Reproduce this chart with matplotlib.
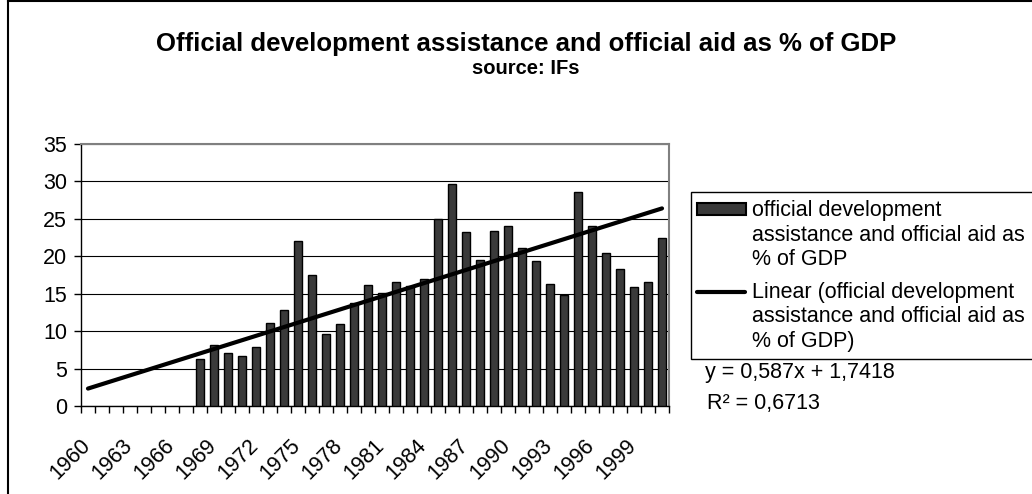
import matplotlib
matplotlib.use("Agg")
import matplotlib.pyplot as plt
import matplotlib.transforms as mtransforms
from matplotlib.patches import Rectangle
from matplotlib.lines import Line2D
import numpy as np

# Official development assistance and official aid, % of GDP (source: IFs)
years = list(range(1960, 2002))
oda_pct = [0, 0, 0, 0, 0, 0, 0, 0,
           6.3, 8.2, 7.1, 6.7, 7.9, 11.1, 12.8, 22.1, 17.5, 9.6, 10.9, 13.8,
           16.1, 15.1, 16.6, 16.0, 16.9, 25.0, 29.7, 23.2, 19.5, 23.4,
           24.0, 21.1, 19.4, 16.3, 14.8, 28.6, 24.0, 20.5, 18.3, 15.9,
           16.6, 22.4]
trend_slope = 0.587
trend_icept = 1.7418
trend_r2 = 0.6713
label_years = years[::3]  # 1960, 1963, ... 1999

W, H = 1032, 494
plt.rcParams['font.family'] = ['Liberation Sans', 'DejaVu Sans']

fig = plt.figure(figsize=(W / 100, H / 100), dpi=100)

def fx(x):
    return x / W

def fy(y):
    return 1 - y / H

def comma(v):
    return str(v).replace('.', ',')

# chart frame (only top and left edges fall inside the picture)
fig.add_artist(Line2D([fx(8), 1.0], [fy(1.5), fy(1.5)], color='black', lw=1.5))
fig.add_artist(Line2D([fx(8), fx(8)], [fy(1.5), 0.0], color='black', lw=1.5))

fig.text(fx(526), fy(51), "Official development assistance and official aid as % of GDP",
         ha='center', va='baseline', fontsize=18.5, fontweight='bold')
fig.text(fx(526), fy(74), "source: IFs", ha='center', va='baseline',
         fontsize=14.5, fontweight='bold')

ax = fig.add_axes([fx(81), fy(406), (669 - 81) / W, (406 - 144) / H])
idx = np.arange(len(years))
edges = ['black' if v > 0 else 'none' for v in oda_pct]
ax.bar(idx, oda_pct, width=0.52, color='#3a3a3a', edgecolor=edges, linewidth=1, zorder=3)

xt = np.arange(1, len(years) + 1)
ax.plot(idx, trend_slope * xt + trend_icept, color='black', lw=3, solid_capstyle='round', zorder=4)

ax.set_xlim(-0.5, len(years) - 0.5)
ax.set_ylim(0, 35)
ax.set_yticks(range(0, 36, 5))
ax.yaxis.grid(True, color='black', lw=0.8, zorder=0)
ax.set_axisbelow(True)

ax.set_xticks([years.index(y) for y in label_years])
ax.set_xticklabels([str(y) for y in label_years], rotation=45, ha='right', va='top',
                   rotation_mode='anchor')
ax.set_xticks(np.arange(-0.5, len(years), 1), minor=True)
ax.tick_params(axis='x', which='major', length=0, pad=21, labelsize=15.5)
ax.tick_params(axis='x', which='minor', length=5, width=1, direction='out')
ax.tick_params(axis='y', length=5, width=1, direction='out', pad=5, labelsize=15.5)
shift = mtransforms.ScaledTranslation(-8 / 100, 0, fig.dpi_scale_trans)
for lab in ax.get_xticklabels():
    lab.set_transform(lab.get_transform() + shift)

for s in ['top', 'right']:
    ax.spines[s].set_color('#808080')
    ax.spines[s].set_linewidth(1.5)
for s in ['left', 'bottom']:
    ax.spines[s].set_color('black')
    ax.spines[s].set_linewidth(1)

# legend box, drawn by hand
fig.add_artist(Rectangle((fx(691), fy(359)), fx(1045) - fx(691), fy(192) - fy(359),
                         transform=fig.transFigure, facecolor='white', edgecolor='black', lw=1))
fig.add_artist(Rectangle((fx(697), fy(215)), fx(746) - fx(697), fy(203) - fy(215),
                         transform=fig.transFigure, facecolor='#3a3a3a', edgecolor='black', lw=1.5))
fig.add_artist(Line2D([fx(697), fx(745)], [fy(292), fy(292)], color='black', lw=3,
                      solid_capstyle='round'))
leg_lines = [
    ("official development", 216),
    ("assistance and official aid as", 241),
    ("% of GDP", 265),
    ("Linear (official development", 298),
    ("assistance and official aid as", 322),
    ("% of GDP)", 347),
]
for txt, yb in leg_lines:
    fig.text(fx(752), fy(yb), txt, ha='left', va='baseline', fontsize=15.5)

fig.text(fx(705), fy(378), "y = %sx + %s" % (comma(trend_slope), comma(trend_icept)),
         ha='left', va='baseline', fontsize=15.5)
fig.text(fx(707), fy(409), "R² = %s" % comma(trend_r2),
         ha='left', va='baseline', fontsize=15.5)

fig.savefig("out.png", dpi=100)
